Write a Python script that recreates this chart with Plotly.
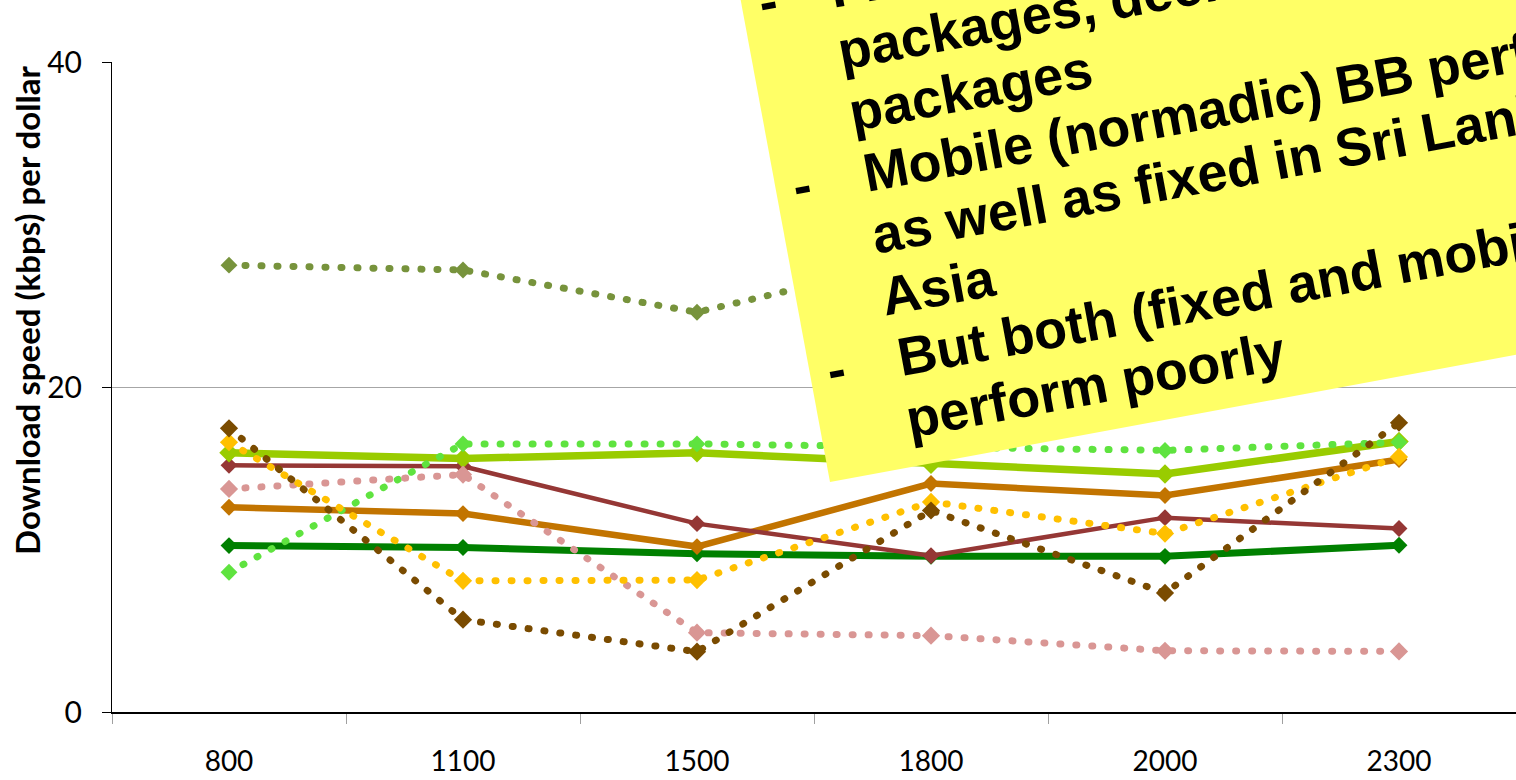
import math
import plotly.graph_objects as go

# Monthly price points (US$ categories) on the x axis
price_points = ["800", "1100", "1500", "1800", "2000", "2300"]

# Download speed (kbps) per dollar, one list per package
olive_dotted = [27.5, 27.2, 24.6, 28.0, 28.4, 29.0]
bright_green_dotted = [8.6, 16.5, 16.5, 16.3, 16.1, 16.6]
lime_solid = [15.95, 15.6, 15.95, 15.25, 14.65, 16.65]
dark_red_solid = [15.18, 15.12, 11.59, 9.62, 11.96, 11.29]
pink_dotted = [13.73, 14.61, 4.88, 4.7, 3.77, 3.73]
orange_solid = [12.6, 12.21, 10.18, 14.06, 13.32, 15.54]
gold_dotted = [16.6, 8.07, 8.12, 12.93, 10.98, 15.7]
brown_dotted = [17.46, 5.68, 3.71, 12.4, 7.33, 17.8]
dark_green_solid = [10.24, 10.12, 9.74, 9.58, 9.58, 10.26]

y_ticks = [0, 20, 40]

note_lines = [
    "-\u2003Fixed BB gives better value in low-end",
    "\u2003 packages, declining in high-end",
    "\u2003 packages",
    "-\u2003Mobile (normadic) BB performs",
    "\u2003 as well as fixed in Sri Lanka and South",
    "\u2003 Asia",
    "-\u2003But both (fixed and mobile)",
    "\u2003 perform poorly",
]

DOT = "1px,15px"

series = [
    # (name, values, colour, line width, dash, marker size)
    ("Package A", dark_green_solid, "#008000", 7, "solid", 13),
    ("Package B", orange_solid, "#C27400", 6.5, "solid", 13),
    ("Package C", dark_red_solid, "#953735", 4.5, "solid", 13),
    ("Package D", lime_solid, "#99CC00", 7.5, "solid", 15),
    ("Package E", olive_dotted, "#77933C", 7, DOT, 13),
    ("Package F", bright_green_dotted, "#5FE33F", 7, DOT, 13),
    ("Package G", pink_dotted, "#D99694", 7, DOT, 14),
    ("Package H", gold_dotted, "#FFC000", 7, DOT, 14),
    ("Package I", brown_dotted, "#7A4B00", 7, DOT, 14),
]

fig = go.Figure()
for name, vals, col, w, dash, msize in series:
    fig.add_trace(go.Scatter(
        x=price_points, y=vals, name=name, mode="lines+markers",
        line=dict(color=col, width=w, dash=dash),
        marker=dict(symbol="diamond", size=msize, color=col),
        showlegend=False, hoverinfo="skip",
    ))

# plot area in pixels
W, H = 1516, 780
L, R, T, B = 112, 0, 62, 68
PW, PH = W - L - R, H - T - B


def to_paper(px, py):
    return (px - L) / PW, (H - B - py) / PH


# rotated yellow sticky note (tilted about 10.5 degrees)
th = math.radians(10.5)
u = (math.cos(th), -math.sin(th))
n = (math.sin(th), math.cos(th))
bl = (830, 482)
br = (bl[0] + 1000 * u[0], bl[1] + 1000 * u[1])
tl = (bl[0] - 900 * n[0], bl[1] - 900 * n[1])
tr = (br[0] - 900 * n[0], br[1] - 900 * n[1])
pts = [to_paper(*p) for p in (bl, br, tr, tl)]
path = "M " + " L ".join(f"{x:.5f},{y:.5f}" for x, y in pts) + " Z"
fig.add_shape(type="path", path=path, xref="paper", yref="paper",
              fillcolor="#FFFF66", line=dict(width=0), layer="above")

note_text = "<br>".join(f'<span style="font-size:54px">{s}</span>' for s in note_lines)
ax_, ay_ = to_paper(754, 462)
fig.add_annotation(
    text=note_text, x=ax_, y=ay_, xref="paper", yref="paper",
    xanchor="left", yanchor="bottom", align="left", showarrow=False,
    textangle=-10.5, borderpad=0, borderwidth=0,
    font=dict(family="Liberation Sans, Arial, sans-serif", size=48,
              color="black", weight="bold"),
)

# y-axis title
tx, ty = to_paper(27, 311)
fig.add_annotation(
    text="Download speed (kbps) per dollar", x=tx, y=ty,
    xref="paper", yref="paper", xanchor="center", yanchor="middle",
    textangle=-90, showarrow=False,
    font=dict(family="Lato, sans-serif", size=33, color="black", weight="bold"),
)

fig.update_layout(
    width=W, height=H,
    margin=dict(l=L, r=R, t=T, b=B, pad=0),
    paper_bgcolor="white", plot_bgcolor="white",
    hovermode=False,
    font=dict(family="Lato, sans-serif", color="black"),
    xaxis=dict(
        type="category", categoryorder="array", categoryarray=price_points,
        range=[-0.5, 5.5], tickson="boundaries", ticks="outside", ticklen=10,
        tickcolor="#A0A0A0", tickwidth=1, showline=True, linecolor="black",
        linewidth=1.5, showgrid=False, zeroline=False,
        tickfont=dict(size=28, family="Lato, sans-serif", color="black"),
        ticklabelstandoff=24,
    ),
    yaxis=dict(
        range=[0, 40], tickvals=y_ticks, ticktext=[str(v) for v in y_ticks],
        ticks="outside", ticklen=9, tickcolor="black", tickwidth=1,
        showline=True, linecolor="black", linewidth=1,
        showgrid=True, gridcolor="#A6A6A6", gridwidth=1, zeroline=False,
        tickfont=dict(size=30, family="Lato, sans-serif", color="black"),
        ticklabelstandoff=14,
    ),
)

round_caps = """
var gd = document.getElementById('{plot_id}');
function roundDots(){
  document.querySelectorAll('.scatterlayer .js-line').forEach(function(p){
    var d = p.style.strokeDasharray;
    if (d && d !== 'none') { p.style.strokeLinecap = 'round'; }
  });
}
roundDots();
if (gd && gd.on) { gd.on('plotly_afterplot', roundDots); }
"""

fig.write_html("out.html", post_script=round_caps)
